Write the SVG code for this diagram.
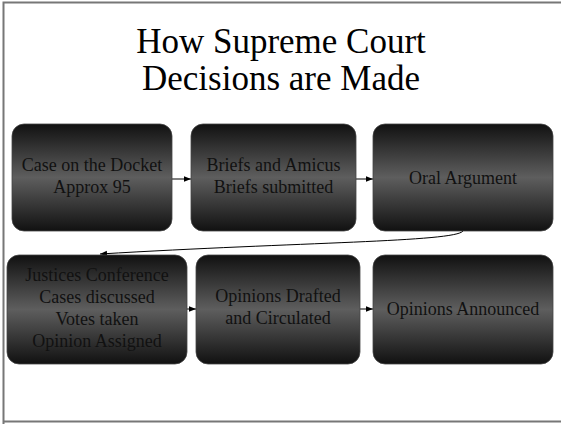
<svg xmlns="http://www.w3.org/2000/svg" width="561" height="424" viewBox="0 0 561 424">
<defs>
<linearGradient id="g" x1="0" y1="0" x2="0" y2="1">
<stop offset="0" stop-color="#111"/>
<stop offset="0.5" stop-color="#5e5e5e"/>
<stop offset="1" stop-color="#111"/>
</linearGradient>
<marker id="ah" viewBox="0 0 10 10" refX="10" refY="5" markerWidth="7" markerHeight="7" orient="auto" markerUnits="userSpaceOnUse">
<path d="M0,1 L10,5 L0,9 z" fill="#000"/>
</marker>
<style>
.box{fill:url(#g);stroke:#444;stroke-width:0.8}
text{font-family:"Times New Roman",Times,"Liberation Serif","DejaVu Serif",serif}
.t{font-size:18px;fill:#111;text-anchor:middle}
.title{font-size:35px;fill:#000;text-anchor:middle}
.c{fill:none;stroke:#000;stroke-width:1}
</style>
</defs>
<rect x="0" y="0" width="561" height="424" fill="#fff"/>
<path d="M3.5,424 V2.5 H561" fill="none" stroke="#777" stroke-width="2"/>
<path d="M3.5,421.5 H561" fill="none" stroke="#777" stroke-width="2"/>
<text class="title" x="281" y="53">How Supreme Court</text>
<text class="title" x="281" y="90">Decisions are Made</text>
<g id="connectors">
<path class="c" d="M172,179 H191" marker-end="url(#ah)"/>
<path class="c" d="M356,179 H373" marker-end="url(#ah)"/>
<path class="c" d="M463,231 C455,242 300,242 100,254" marker-end="url(#ah)"/>
<path class="c" d="M187,309 H196" marker-end="url(#ah)"/>
<path class="c" d="M360,309 H373" marker-end="url(#ah)"/>
</g>
<g id="n1"><rect class="box" x="12" y="124" width="160" height="107" rx="12"/>
<text class="t" x="92" y="171">Case on the Docket</text><text class="t" x="92" y="193">Approx 95</text></g>
<g id="n2"><rect class="box" x="191" y="124" width="165" height="107" rx="12"/>
<text class="t" x="273.5" y="171">Briefs and Amicus</text><text class="t" x="273.5" y="193">Briefs submitted</text></g>
<g id="n3"><rect class="box" x="373" y="124" width="180" height="107" rx="12"/>
<text class="t" x="463" y="184">Oral Argument</text></g>
<g id="n4"><rect class="box" x="7" y="255" width="180" height="109" rx="12"/>
<text class="t" x="97" y="281">Justices Conference</text><text class="t" x="97" y="303">Cases discussed</text><text class="t" x="97" y="325">Votes taken</text><text class="t" x="97" y="347">Opinion Assigned</text></g>
<g id="n5"><rect class="box" x="196" y="255" width="164" height="109" rx="12"/>
<text class="t" x="278" y="302">Opinions Drafted</text><text class="t" x="278" y="324">and Circulated</text></g>
<g id="n6"><rect class="box" x="373" y="255" width="180" height="109" rx="12"/>
<text class="t" x="463" y="315">Opinions Announced</text></g>
</svg>
